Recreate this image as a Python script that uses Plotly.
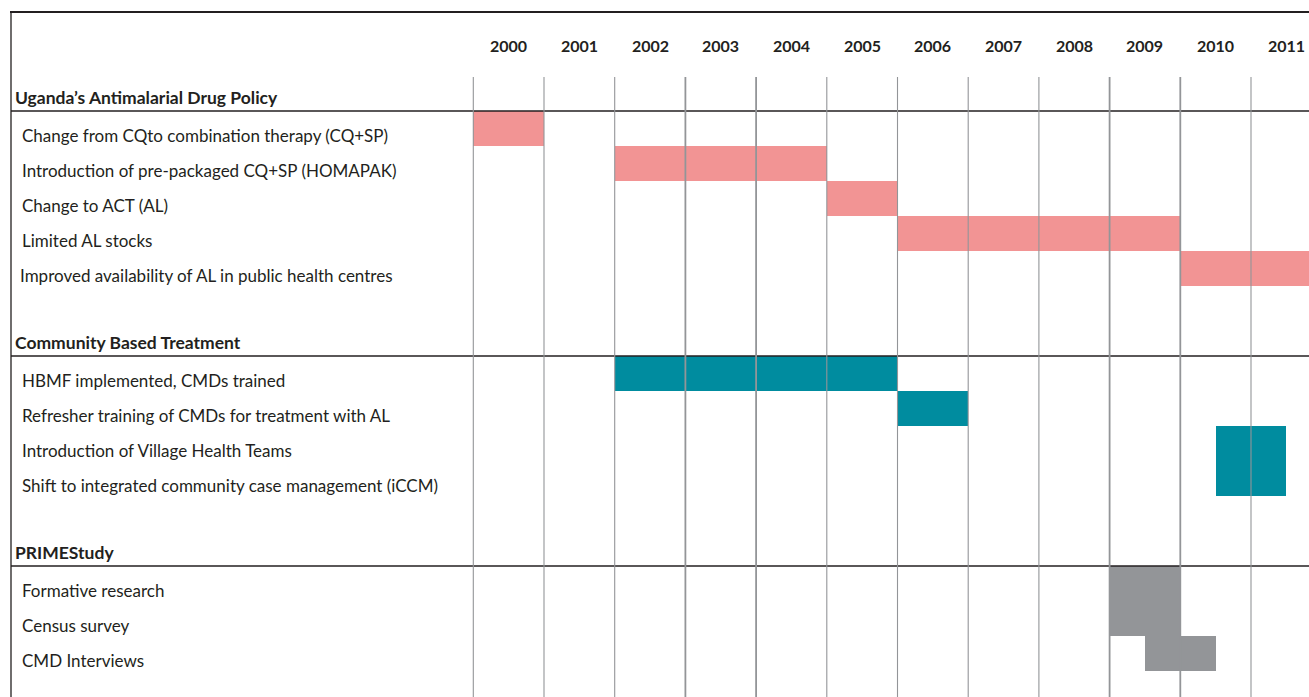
import plotly.graph_objects as go

# ---------------- data ----------------
years = list(range(2000, 2012))

group_names = ["Uganda\u2019s Antimalarial Drug Policy", "Community Based Treatment", "PRIMEStudy"]
group_colors = ["#F29494", "#008C9F", "#939598"]

policy_items = ["Change from CQto combination therapy (CQ+SP)",
                "Introduction of pre-packaged CQ+SP (HOMAPAK)",
                "Change to ACT (AL)",
                "Limited AL stocks",
                "Improved availability of AL in public health centres"]
policy_start = [2000, 2002, 2005, 2006, 2010]
policy_end = [2001, 2005, 2006, 2010, 2012]

community_items = ["HBMF implemented, CMDs trained",
                   "Refresher training of CMDs for treatment with AL",
                   "Introduction of Village Health Teams",
                   "Shift to integrated community case management (iCCM)"]
community_start = [2002, 2006, 2010.5, 2010.5]
community_end = [2006, 2007, 2011.5, 2011.5]

prime_items = ["Formative research", "Census survey", "CMD Interviews"]
prime_start = [2009, 2009, 2009.5]
prime_end = [2010, 2010, 2010.5]

groups = [
    (policy_items, policy_start, policy_end),
    (community_items, community_start, community_end),
    (prime_items, prime_start, prime_end),
]

# ---------------- layout helpers ----------------
W, H = 1309, 697
ROW_PX = 35.0
ROW0_TOP = 76.0          # pixel of y=0
COL_PX = 70.7
X2000 = 473.3            # pixel of year 2000 start

x_lo = 2000 - X2000 / COL_PX
x_hi = 2000 + (W - X2000) / COL_PX
y_top = -ROW0_TOP / ROW_PX
y_bot = (H - ROW0_TOP) / ROW_PX

FONT = "Lato, 'Open Sans', sans-serif"
TXT = "#231F20"

fig = go.Figure()
annotations = []
shapes = []

row = 0
for gi, (items, starts, ends) in enumerate(groups):
    annotations.append(dict(
        x=15 / W, xref="paper", xshift=-2, y=row + 0.5, yref="y", yshift=-4,
        text="<b>" + group_names[gi] + "</b>", showarrow=False,
        xanchor="left", yanchor="middle",
        font=dict(family=FONT, size=17.5, color=TXT)))
    shapes.append(dict(type="line", xref="paper", yref="y",
                       x0=11 / W, x1=1, y0=row + 1, y1=row + 1,
                       line=dict(color=TXT, width=1.3), layer="above"))
    rows_y = []
    for k, name in enumerate(items):
        r = row + 1 + k
        rows_y.append(r + 0.5)
        annotations.append(dict(
            x=(20 if name.startswith("Improved") else 22) / W, xref="paper",
            xshift=-2, y=r + 0.5, yref="y", yshift=-7,
            text=name, showarrow=False, xanchor="left", yanchor="middle",
            font=dict(family=FONT, size=17, color=TXT)))
    fig.add_trace(go.Bar(
        orientation="h",
        y=rows_y,
        base=starts,
        x=[e - s for s, e in zip(starts, ends)],
        width=1,
        marker=dict(color=group_colors[gi], line=dict(width=0)),
        showlegend=False, hoverinfo="skip"))
    row = row + 1 + len(items) + 1

# year labels
for yr in years:
    annotations.append(dict(
        x=yr + 0.5, xref="x", y=-0.86, yref="y",
        text="<b>%d</b>" % yr, showarrow=False,
        xanchor="center", yanchor="middle",
        font=dict(family=FONT, size=16, color=TXT)))

# vertical year grid lines
thick = {2003, 2004, 2009, 2010}
for yr in years:
    shapes.append(dict(type="line", xref="x", yref="y",
                       x0=yr, x1=yr, y0=0.03, y1=y_bot,
                       line=dict(color="#939598", width=1.8 if yr in thick else 1.1),
                       layer="above"))

# frame: top border and left border
shapes.append(dict(type="line", xref="paper", yref="paper",
                   x0=10 / W, x1=1, y0=1 - 12 / H, y1=1 - 12 / H,
                   line=dict(color=TXT, width=2)))
shapes.append(dict(type="line", xref="paper", yref="paper",
                   x0=11 / W, x1=11 / W, y0=0, y1=1 - 12 / H,
                   line=dict(color=TXT, width=1.3)))

fig.update_layout(
    width=W, height=H,
    margin=dict(l=0, r=0, t=0, b=0),
    paper_bgcolor="white", plot_bgcolor="white",
    barmode="overlay", bargap=0,
    xaxis=dict(range=[x_lo, x_hi], visible=False, fixedrange=True),
    yaxis=dict(range=[y_bot, y_top], visible=False, fixedrange=True),
    annotations=annotations, shapes=shapes,
)

fig.write_html("out.html", config={"displayModeBar": False},
               post_script="document.body.style.margin='0';document.body.style.overflow='hidden';")
